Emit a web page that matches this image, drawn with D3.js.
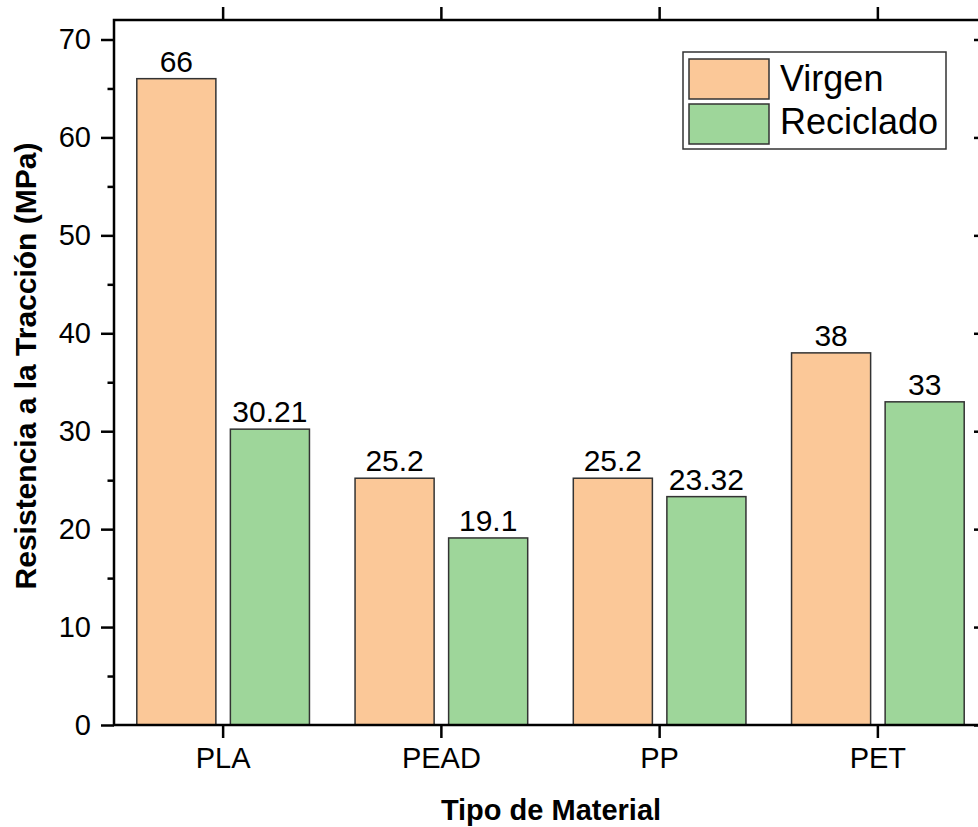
<!DOCTYPE html>
<html>
<head>
<meta charset="utf-8">
<script src="https://cdn.jsdelivr.net/npm/d3@7"></script>
<style>
  body { margin: 0; background: #fff; }
  text { font-family: "Liberation Sans", Arial, sans-serif; fill: #000; }
</style>
</head>
<body>
<svg id="chart"></svg>
<script>
const width = 978;
const height = 827;

const categories = ["PLA", "PEAD", "PP", "PET"];
const series = ["Virgen", "Reciclado"];
const virgen = [66, 25.2, 25.2, 38];
const reciclado = [30.21, 19.1, 23.32, 33];
const valueLabels = [["66", "25.2", "25.2", "38"], ["30.21", "19.1", "23.32", "33"]];
const yTicks = [0, 10, 20, 30, 40, 50, 60, 70];
const colors = ["#fbc898", "#9ed69a"];

const margin = { top: 20, right: 987, bottom: 725, left: 114 };

const svg = d3.select("#chart").attr("width", width).attr("height", height);

const x0 = d3.scaleBand().domain(categories).range([margin.left, margin.right]).padding(0);
const x1 = d3.scaleBand().domain(series)
  .range([22.8, x0.bandwidth() - 22.8]).paddingInner(0.155);
const y = d3.scaleLinear().domain([0, 70]).range([margin.bottom, 39.5]);

const data = categories.map((c, i) => ({ cat: c, values: [virgen[i], reciclado[i]] }));

// bars
const groups = svg.selectAll("g.grp").data(data).enter().append("g")
  .attr("class", "grp")
  .attr("transform", d => `translate(${x0(d.cat)},0)`);

groups.selectAll("rect").data((d, i) => d.values.map((v, s) => ({ v, s, i })))
  .enter().append("rect")
  .attr("x", d => x1(series[d.s]))
  .attr("width", x1.bandwidth())
  .attr("y", d => y(d.v))
  .attr("height", d => y(0) - y(d.v))
  .attr("fill", d => colors[d.s])
  .attr("stroke", "#333")
  .attr("stroke-width", 1.5);

groups.selectAll("text.val").data((d, i) => d.values.map((v, s) => ({ v, s, i })))
  .enter().append("text")
  .attr("class", "val")
  .attr("x", d => x1(series[d.s]) + x1.bandwidth() / 2)
  .attr("y", d => y(d.v) - 7)
  .attr("text-anchor", "middle")
  .style("font-size", "30px")
  .text(d => valueLabels[d.s][d.i]);

// axes
const axisStyle = g => {
  g.select(".domain").remove();
  g.selectAll(".tick line").attr("stroke", "#000").attr("stroke-width", 2.5);
  g.selectAll(".tick text").style("font-size", "29px").style("font-family", "Liberation Sans, Arial, sans-serif");
};

// minor ticks (left)
svg.append("g")
  .attr("transform", `translate(${margin.left},0)`)
  .call(d3.axisLeft(y).tickValues(d3.range(5, 70, 10)).tickSize(6.5).tickFormat(""))
  .call(axisStyle);

svg.append("g")
  .attr("transform", `translate(${margin.left},0)`)
  .call(d3.axisLeft(y).tickValues(yTicks).tickSize(13).tickPadding(10))
  .call(axisStyle);

svg.append("g")
  .attr("transform", `translate(${margin.right},0)`)
  .call(d3.axisRight(y).tickValues(yTicks).tickSize(-13).tickFormat(""))
  .call(axisStyle);

svg.append("g")
  .attr("transform", `translate(0,${margin.bottom})`)
  .call(d3.axisBottom(x0).tickSize(13).tickPadding(9))
  .call(axisStyle);

svg.append("g")
  .attr("transform", `translate(0,${margin.top})`)
  .call(d3.axisTop(x0).tickSize(13).tickFormat(""))
  .call(axisStyle);

// frame
svg.append("rect")
  .attr("x", margin.left).attr("y", margin.top)
  .attr("width", margin.right - margin.left).attr("height", margin.bottom - margin.top)
  .attr("fill", "none").attr("stroke", "#000").attr("stroke-width", 2.5);

// axis titles
svg.append("text")
  .attr("x", 551)
  .attr("y", 820)
  .attr("text-anchor", "middle")
  .style("font-size", "29px").style("font-weight", "bold")
  .text("Tipo de Material");

svg.append("text")
  .attr("transform", "translate(36,366) rotate(-90)")
  .attr("text-anchor", "middle")
  .style("font-size", "30px").style("font-weight", "bold")
  .text("Resistencia a la Tracción (MPa)");

// legend
const legend = svg.append("g").attr("transform", "translate(683,52)");
legend.append("rect").attr("width", 263).attr("height", 97)
  .attr("fill", "#fff").attr("stroke", "#333").attr("stroke-width", 1.5);
series.forEach((s, i) => {
  legend.append("rect")
    .attr("x", 6).attr("y", 7 + i * 45).attr("width", 80).attr("height", 40)
    .attr("fill", colors[i]).attr("stroke", "#333").attr("stroke-width", 1.5);
  legend.append("text")
    .attr("x", 97).attr("y", 39 + i * 43)
    .style("font-size", "36px")
    .text(s);
});
</script>
</body>
</html>
